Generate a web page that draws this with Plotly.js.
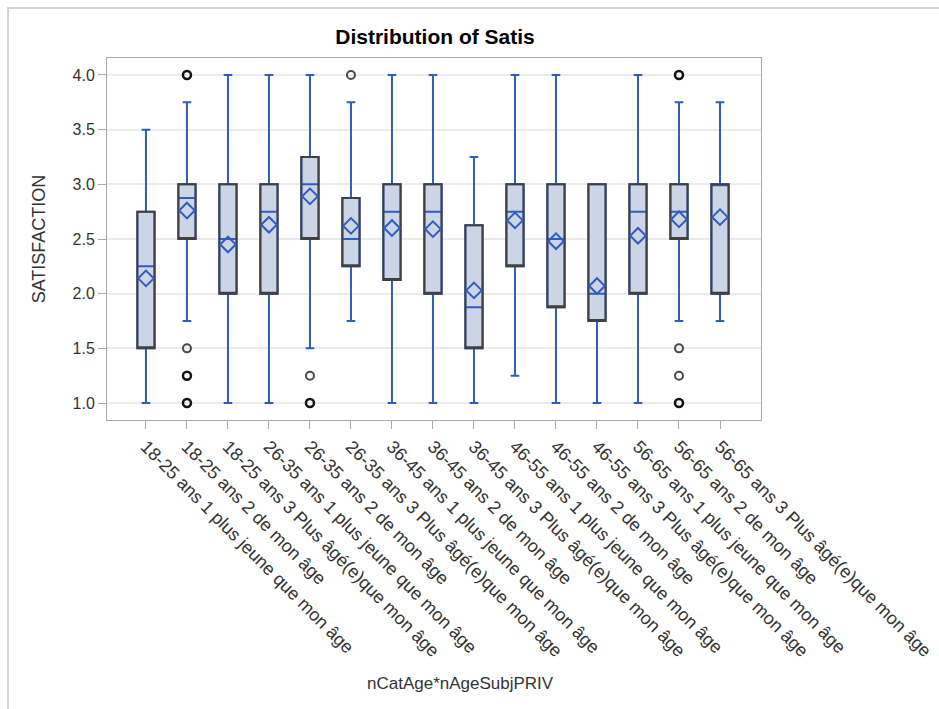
<!DOCTYPE html>
<html>
<head>
<meta charset="utf-8">
<script src="https://cdn.plot.ly/plotly-3.0.1.min.js"></script>
<style>
  html, body { margin: 0; padding: 0; background: #fff; }
  #chart { position: absolute; left: 0; top: 0; width: 939px; height: 709px; }
  #frame { position: absolute; left: 7px; top: 7px; width: 940px; height: 710px;
           border-left: 2px solid #d4d4d4; border-top: 2px solid #d4d4d4; pointer-events: none; }
</style>
</head>
<body>
<div id="chart"></div>
<div id="frame"></div>
<script>
const categories = [
  "18-25 ans 1 plus jeune que mon âge",
  "18-25 ans 2 de mon âge",
  "18-25 ans 3 Plus âgé(e)que mon âge",
  "26-35 ans 1 plus jeune que mon âge",
  "26-35 ans 2 de mon âge",
  "26-35 ans 3 Plus âgé(e)que mon âge",
  "36-45 ans 1 plus jeune que mon âge",
  "36-45 ans 2 de mon âge",
  "36-45 ans 3 Plus âgé(e)que mon âge",
  "46-55 ans 1 plus jeune que mon âge",
  "46-55 ans 2 de mon âge",
  "46-55 ans 3 Plus âgé(e)que mon âge",
  "56-65 ans 1 plus jeune que mon âge",
  "56-65 ans 2 de mon âge",
  "56-65 ans 3 Plus âgé(e)que mon âge"
];
const q1Values     = [1.5, 2.5, 2.0, 2.0, 2.5, 2.25, 2.125, 2.0, 1.5, 2.25, 1.875, 1.75, 2.0, 2.5, 2.0];
const medianValues = [2.25, 2.875, 2.5, 2.75, 3.0, 2.5, 2.75, 2.75, 1.875, 2.75, 2.5, 2.0, 2.75, 2.75, 3.0];
const q3Values     = [2.75, 3.0, 3.0, 3.0, 3.25, 2.875, 3.0, 3.0, 2.625, 3.0, 3.0, 3.0, 3.0, 3.0, 3.0];
const lowerWhisker = [1.0, 1.75, 1.0, 1.0, 1.5, 1.75, 1.0, 1.0, 1.0, 1.25, 1.0, 1.0, 1.0, 1.75, 1.75];
const upperWhisker = [3.5, 3.75, 4.0, 4.0, 4.0, 3.75, 4.0, 4.0, 3.25, 4.0, 4.0, 3.0, 4.0, 3.75, 3.75];
const meanValues   = [2.14, 2.76, 2.45, 2.63, 2.89, 2.62, 2.60, 2.59, 2.03, 2.67, 2.48, 2.07, 2.53, 2.68, 2.70];

// outliers: category index, value, number of overlapping observations (1 = single, 2 = several)
const outlierCat   = [1, 1, 1, 1, 4, 4, 5, 13, 13, 13, 13];
const outlierValue = [4.0, 1.5, 1.25, 1.0, 1.25, 1.0, 4.0, 4.0, 1.5, 1.25, 1.0];
const outlierCount = [2, 1, 2, 2, 1, 2, 1, 2, 1, 1, 2];

const yTicks = [1.0, 1.5, 2.0, 2.5, 3.0, 3.5, 4.0];

const FONT = "'Liberation Sans', Arial, Helvetica, sans-serif";
const BLUE = "#2f5cbf";

const mainBox = {
  type: "box",
  x: categories,
  q1: q1Values, median: medianValues, q3: q3Values,
  lowerfence: lowerWhisker, upperfence: upperWhisker,
  boxpoints: false,
  width: 0.42,
  whiskerwidth: 0.5,
  fillcolor: "#cbd5e6",
  line: { color: BLUE, width: 2 },
  hoverinfo: "skip",
  showlegend: false
};
const outlineBox = {
  type: "box",
  x: categories,
  q1: q1Values, median: q1Values, q3: q3Values,
  lowerfence: q1Values, upperfence: q3Values,
  boxpoints: false,
  width: 0.42,
  whiskerwidth: 0,
  fillcolor: "rgba(0,0,0,0)",
  line: { color: "#404040", width: 2 },
  hoverinfo: "skip",
  showlegend: false
};
const meanTrace = {
  type: "scatter", mode: "markers",
  x: categories, y: meanValues,
  marker: { symbol: "diamond-open", size: 12, color: BLUE, line: { width: 2, color: BLUE } },
  showlegend: false
};
const outlierTrace = {
  type: "scatter", mode: "markers",
  x: outlierCat.map(i => categories[i]), y: outlierValue,
  marker: {
    symbol: "circle-open", size: 8,
    color: outlierCount.map(c => c > 1 ? "#111111" : "#4a4a4a"),
    line: { width: outlierCount.map(c => c > 1 ? 2.5 : 2), color: outlierCount.map(c => c > 1 ? "#111111" : "#4a4a4a") }
  },
  showlegend: false
};

const layout = {
  width: 939, height: 709,
  margin: { l: 107, r: 178, t: 58, b: 289 },
  paper_bgcolor: "#ffffff", plot_bgcolor: "#ffffff",
  font: { family: FONT, color: "#333333" },
  boxmode: "overlay",
  showlegend: false,
  title: {
    text: "<b>Distribution of Satis</b>",
    font: { family: FONT, size: 21, color: "#000000" },
    x: 435 / 939, xanchor: "center",
    y: 1 - 37 / 709, yanchor: "middle", xref: "container", yref: "container"
  },
  xaxis: {
    type: "category",
    range: [-0.95, 15.0],
    tickangle: 45,
    tickfont: { family: FONT, size: 18, color: "#333333" },
    ticks: "outside", ticklen: 8, tickcolor: "#aaaaaa", tickwidth: 1,
    showgrid: false, zeroline: false,
    showline: true, linecolor: "#a9a9a9", linewidth: 1, mirror: true,
    automargin: false
  },
  yaxis: {
    range: [0.845, 4.155],
    tickvals: yTicks,
    ticktext: yTicks.map(v => v.toFixed(1)),
    tickfont: { family: FONT, size: 16, color: "#333333" },
    ticks: "outside", ticklen: 8, tickcolor: "#aaaaaa", tickwidth: 1,
    showgrid: true, gridcolor: "#ebebeb", gridwidth: 2,
    zeroline: false,
    showline: true, linecolor: "#a9a9a9", linewidth: 1, mirror: true,
    automargin: false,
    title: { text: "SATISFACTION", font: { family: FONT, size: 18, color: "#333333" }, standoff: 22 }
  },
  annotations: [{
    text: "nCatAge*nAgeSubjPRIV",
    xref: "paper", yref: "paper",
    x: (460 - 107) / 654, y: -(683 - 420) / 362,
    xanchor: "center", yanchor: "middle",
    showarrow: false,
    font: { family: FONT, size: 17, color: "#333333" }
  }]
};

Plotly.newPlot("chart", [mainBox, outlineBox, meanTrace, outlierTrace], layout, { staticPlot: true, displayModeBar: false });
</script>
</body>
</html>
